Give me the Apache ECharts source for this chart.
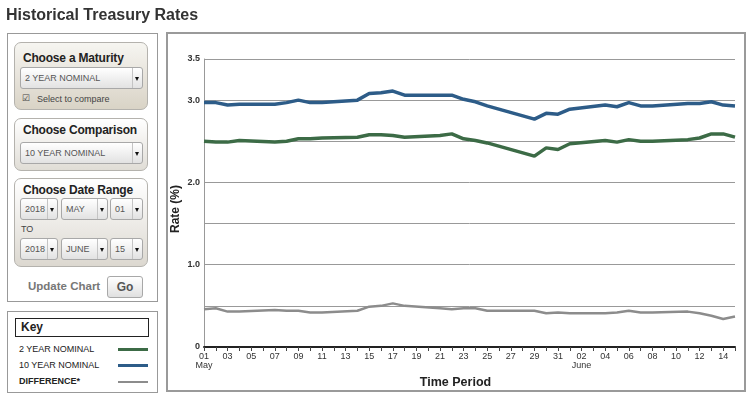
<!DOCTYPE html>
<html>
<head>
<meta charset="utf-8">
<title>Historical Treasury Rates</title>
<script src="https://cdn.jsdelivr.net/npm/echarts@6/dist/echarts.min.js"></script>
<style>
  body { margin: 0; width: 751px; height: 397px; overflow: hidden; background: #fff; position: relative;
         font-family: "Liberation Sans", Arial, sans-serif; color: #333; }
  .abs { position: absolute; box-sizing: border-box; }
  #chart { left: 0; top: 0; width: 751px; height: 397px; z-index: 0; }
  .ui { z-index: 1; }
  h1 { margin: 0; left: 6px; top: 5px; font-size: 16px; line-height: 20px; font-weight: bold; color: #333; white-space: nowrap; }
  .panel { border: 1px solid #999; background: #fff; }
  .box { border: 1px solid #b4b2ad; border-radius: 7px; }
  .box h2 { position: absolute; margin: 0; left: 8px; font-size: 12px; font-weight: bold; color: #222; line-height: 16px;
            white-space: nowrap; letter-spacing: -0.2px; }
  .sel { position: absolute; height: 22px; border: 1px solid #a8a8a8; border-radius: 3px; box-sizing: border-box; white-space: nowrap;
         background: linear-gradient(#ffffff, #e2e2e2); font-size: 9px; color: #555; line-height: 20px; padding-left: 4px; }
  .sel .arr { position: absolute; right: 0; top: 0; width: 9px; height: 20px; border-left: 1px solid #c4c4c4; }
  .sel .arr::after { content: ""; position: absolute; left: 2px; top: 9px; border-left: 2.5px solid transparent;
         border-right: 2.5px solid transparent; border-top: 4px solid #111; }
  .small { position: absolute; font-size: 9px; color: #444; white-space: nowrap; }
  .frame { border: 2px solid #9a9a9a; pointer-events: none; z-index: 2; }
  .keyrow { position: absolute; left: 11px; font-size: 9px; color: #222; line-height: 10px; white-space: nowrap; }
  .keyline { position: absolute; left: 110px; width: 30px; }
</style>
</head>
<body>
<div id="chart" class="abs"></div>

<h1 class="abs ui">Historical Treasury Rates</h1>

<div class="abs ui panel" style="left:7px; top:33px; width:151px; height:269px;">
  <div class="abs box" style="left:6px; top:8px; width:134px; height:68px; background:linear-gradient(#f6f5f1, #d9d3c6);">
    <h2 style="top:7px;">Choose a Maturity</h2>
    <div class="sel" style="left:5px; top:24px; width:123px;">2 YEAR NOMINAL<span class="arr"></span></div>
    <div class="small" style="left:7px; top:50px;">&#9745;</div>
    <div class="small" style="left:22px; top:51px;">Select to compare</div>
  </div>
  <div class="abs box" style="left:6px; top:84px; width:134px; height:53px; background:linear-gradient(#ffffff, #e0ddd6);">
    <h2 style="top:3px;">Choose Comparison</h2>
    <div class="sel" style="left:5px; top:23px; width:123px;">10 YEAR NOMINAL<span class="arr"></span></div>
  </div>
  <div class="abs box" style="left:6px; top:144px; width:134px; height:89px; background:linear-gradient(#ffffff, #dcd8d0);">
    <h2 style="top:3px;">Choose Date Range</h2>
    <div class="sel" style="left:5px; top:19px; width:38px;">2018<span class="arr"></span></div>
    <div class="sel" style="left:46px; top:19px; width:47px;">MAY<span class="arr"></span></div>
    <div class="sel" style="left:95px; top:19px; width:33px;">01<span class="arr"></span></div>
    <div class="small" style="left:6px; top:45px;">TO</div>
    <div class="sel" style="left:5px; top:59px; width:38px;">2018<span class="arr"></span></div>
    <div class="sel" style="left:46px; top:59px; width:47px;">JUNE<span class="arr"></span></div>
    <div class="sel" style="left:95px; top:59px; width:33px;">15<span class="arr"></span></div>
  </div>
  <div class="abs" style="left:20px; top:246px; font-size:11.5px; font-weight:bold; color:#777; white-space:nowrap;">Update Chart</div>
  <div class="abs" style="left:99px; top:242px; width:36px; height:22px; border:1px solid #a8a8a8; border-radius:3px;
       background:linear-gradient(#ffffff, #e0e0e0); font-size:12px; font-weight:bold; color:#555; text-align:center; line-height:20px;">Go</div>
</div>

<div class="abs ui panel" style="left:7px; top:311px; width:151px; height:82px;">
  <div class="abs" style="left:7px; top:6px; width:134px; height:19px; border:1.5px solid #222; font-size:12px; font-weight:bold;
       color:#222; line-height:16px; padding-left:5px;">Key</div>
  <div class="keyrow" style="top:32px;">2 YEAR NOMINAL</div>
  <div class="keyline" style="top:36px; height:3px; background:#3c6b46;"></div>
  <div class="keyrow" style="top:48px;">10 YEAR NOMINAL</div>
  <div class="keyline" style="top:52px; height:3px; background:#2d5c88;"></div>
  <div class="keyrow" style="top:64px; font-weight:bold;">DIFFERENCE*</div>
  <div class="keyline" style="top:69px; height:2px; background:#8c8c8c;"></div>
</div>

<div class="abs frame" style="left:166px; top:32px; width:580px; height:360px;"></div>

<script>
// trading days (2018) and the rates
const tradeDays = ['2018-05-01', '2018-05-02', '2018-05-03', '2018-05-04', '2018-05-07', '2018-05-08', '2018-05-09',
  '2018-05-10', '2018-05-11', '2018-05-14', '2018-05-15', '2018-05-16', '2018-05-17', '2018-05-18', '2018-05-21',
  '2018-05-22', '2018-05-23', '2018-05-24', '2018-05-25', '2018-05-29', '2018-05-30', '2018-05-31', '2018-06-01',
  '2018-06-04', '2018-06-05', '2018-06-06', '2018-06-07', '2018-06-08', '2018-06-11', '2018-06-12', '2018-06-13',
  '2018-06-14', '2018-06-15'];
const tenYear = [2.97, 2.97, 2.94, 2.95, 2.95, 2.97, 3.00, 2.97, 2.97, 3.00, 3.08, 3.09, 3.11, 3.06, 3.06,
  3.06, 3.01, 2.98, 2.93, 2.77, 2.84, 2.83, 2.89, 2.94, 2.92, 2.97, 2.93, 2.93, 2.96, 2.96, 2.98, 2.94, 2.93];
const twoYear = [2.50, 2.49, 2.49, 2.51, 2.49, 2.50, 2.53, 2.53, 2.54, 2.55, 2.58, 2.58, 2.57, 2.55, 2.57,
  2.59, 2.53, 2.51, 2.48, 2.32, 2.42, 2.40, 2.47, 2.51, 2.49, 2.52, 2.50, 2.50, 2.52, 2.54, 2.59, 2.59, 2.55];
const difference = [0.46, 0.47, 0.43, 0.43, 0.45, 0.44, 0.44, 0.42, 0.42, 0.44, 0.49, 0.50, 0.53, 0.50, 0.47,
  0.46, 0.47, 0.47, 0.44, 0.44, 0.41, 0.42, 0.41, 0.41, 0.42, 0.44, 0.42, 0.42, 0.43, 0.41, 0.38, 0.34, 0.37];
const startDay = '2018-05-01';
const endDay = '2018-06-15';
const monthNames = ['Jan', 'Feb', 'Mar', 'Apr', 'May', 'June', 'July', 'Aug', 'Sep', 'Oct', 'Nov', 'Dec'];

// every calendar day of the range is a category, weekends stay empty
const allDays = [];
for (let d = new Date(startDay + 'T00:00:00Z'); d <= new Date(endDay + 'T00:00:00Z'); d.setUTCDate(d.getUTCDate() + 1)) {
  allDays.push(d.toISOString().slice(0, 10));
}
const pairs = (vals) => tradeDays.map((day, i) => [day, vals[i]]);

const chart = echarts.init(document.getElementById('chart'), null, { renderer: 'canvas' });
const font = '"Liberation Sans", Arial, sans-serif';

chart.setOption({
  animation: false,
  backgroundColor: '#fff',
  grid: { left: 204, right: 16, top: 59, bottom: 50, containLabel: false },
  xAxis: {
    type: 'category',
    data: allDays,
    boundaryGap: false,
    name: 'Time Period',
    nameLocation: 'middle',
    nameGap: 29,
    nameTextStyle: { fontFamily: font, fontSize: 12.5, fontWeight: 'bold', color: '#222', padding: [0, 28, 0, 0] },
    axisLine: { lineStyle: { color: '#222', width: 2 } },
    axisTick: { interval: 0, length: 4, lineStyle: { color: '#444' } },
    axisLabel: {
      interval: 1,
      margin: 5,
      fontFamily: font,
      fontSize: 9,
      color: '#333',
      lineHeight: 9,
      formatter: (val) => {
        const day = val.slice(8, 10);
        const firstShown = Number(day) <= 2;
        return firstShown ? day + '\n' + monthNames[Number(val.slice(5, 7)) - 1] : day;
      }
    },
    splitLine: { show: false }
  },
  yAxis: {
    type: 'value',
    min: 0,
    max: 3.5,
    interval: 0.5,
    name: 'Rate (%)',
    nameLocation: 'middle',
    nameGap: 22,
    nameMoveOverlap: false,
    nameTextStyle: { fontFamily: font, fontSize: 12, fontWeight: 'bold', color: '#222', padding: [0, 12, 0, 0] },
    axisLine: { show: true, lineStyle: { color: '#999', width: 1 } },
    axisTick: { show: false },
    axisLabel: {
      margin: 4,
      fontFamily: font,
      fontSize: 9,
      fontWeight: 'bold',
      color: '#333',
      formatter: (v) => {
        if (v === 0) return '0';
        if (v === 3.5 || v % 1 === 0) return v.toFixed(1);
        return '';
      }
    },
    splitLine: { lineStyle: { color: '#999', width: 1 } }
  },
  series: [
    {
      name: '2 YEAR NOMINAL',
      type: 'line',
      data: pairs(twoYear),
      showSymbol: false,
      lineStyle: { color: '#3c6b46', width: 3.5 },
      itemStyle: { color: '#3c6b46' }
    },
    {
      name: '10 YEAR NOMINAL',
      type: 'line',
      data: pairs(tenYear),
      showSymbol: false,
      lineStyle: { color: '#2d5c88', width: 3.5 },
      itemStyle: { color: '#2d5c88' }
    },
    {
      name: 'DIFFERENCE*',
      type: 'line',
      data: pairs(difference),
      showSymbol: false,
      lineStyle: { color: '#8c8c8c', width: 2.5 },
      itemStyle: { color: '#8c8c8c' }
    }
  ]
});
</script>
</body>
</html>
